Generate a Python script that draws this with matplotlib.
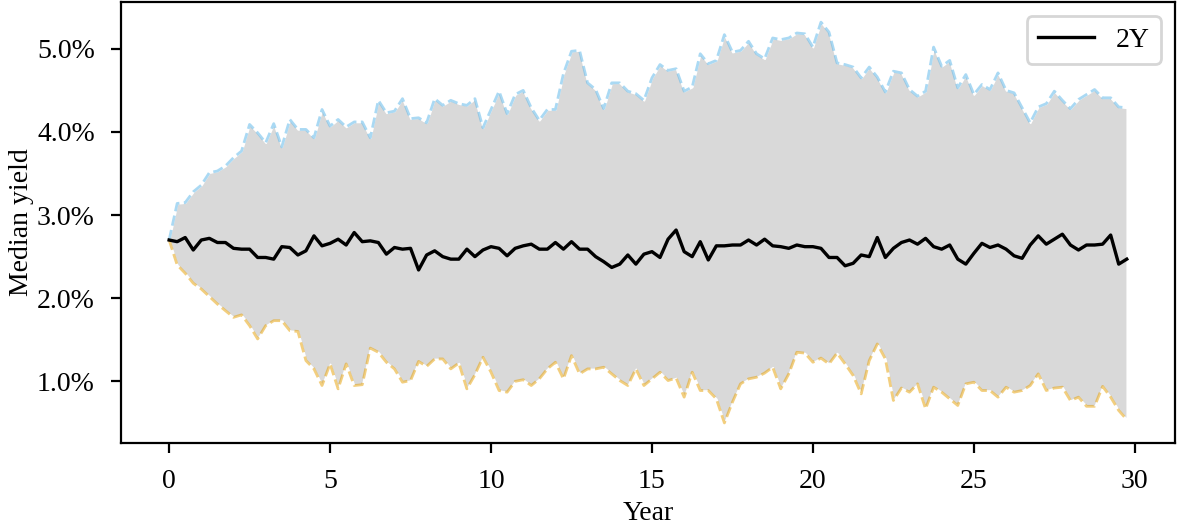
import numpy as np
import matplotlib
matplotlib.use("Agg")
import matplotlib.pyplot as plt
from matplotlib.ticker import PercentFormatter

plt.rcParams['font.family'] = ['Liberation Serif', 'DejaVu Serif']
plt.rcParams['font.size'] = 10

# quarterly simulation steps, 30 years
n_steps = 120
years = np.arange(n_steps) * 0.25

# median 2Y yield (%)
median_2y = [
    2.70, 2.68, 2.73, 2.58, 2.70, 2.72, 2.67, 2.67, 2.60, 2.59,
    2.59, 2.49, 2.49, 2.47, 2.62, 2.61, 2.52, 2.57, 2.75, 2.63,
    2.66, 2.71, 2.64, 2.79, 2.68, 2.69, 2.67, 2.53, 2.61, 2.59,
    2.60, 2.34, 2.52, 2.57, 2.50, 2.47, 2.47, 2.59, 2.50, 2.58,
    2.62, 2.60, 2.51, 2.60, 2.63, 2.65, 2.59, 2.59, 2.67, 2.59,
    2.68, 2.59, 2.59, 2.50, 2.44, 2.37, 2.41, 2.52, 2.41, 2.53,
    2.56, 2.49, 2.71, 2.82, 2.56, 2.50, 2.68, 2.46, 2.63, 2.63,
    2.64, 2.64, 2.70, 2.64, 2.71, 2.63, 2.62, 2.60, 2.64, 2.62,
    2.62, 2.60, 2.49, 2.49, 2.39, 2.42, 2.52, 2.50, 2.73, 2.49,
    2.60, 2.67, 2.70, 2.65, 2.72, 2.62, 2.59, 2.64, 2.47, 2.41,
    2.54, 2.66, 2.61, 2.64, 2.59, 2.51, 2.48, 2.64, 2.75, 2.65,
    2.71, 2.77, 2.64, 2.58, 2.64, 2.64, 2.65, 2.76, 2.41, 2.47,
]

# upper band (%)
upper_2y = [
    2.70, 3.14, 3.15, 3.28, 3.36, 3.51, 3.53, 3.59, 3.69, 3.77,
    4.09, 3.99, 3.87, 4.10, 3.82, 4.15, 4.03, 4.03, 3.93, 4.27,
    4.07, 4.15, 4.06, 4.12, 4.12, 3.93, 4.38, 4.23, 4.25, 4.40,
    4.16, 4.17, 4.11, 4.40, 4.32, 4.38, 4.34, 4.32, 4.40, 4.05,
    4.27, 4.49, 4.22, 4.45, 4.50, 4.29, 4.14, 4.27, 4.27, 4.70,
    4.97, 4.98, 4.59, 4.51, 4.28, 4.59, 4.59, 4.49, 4.46, 4.38,
    4.65, 4.81, 4.74, 4.76, 4.49, 4.54, 4.94, 4.82, 4.86, 5.17,
    4.96, 4.98, 5.09, 4.94, 4.88, 5.13, 5.11, 5.13, 5.19, 5.18,
    5.02, 5.32, 5.20, 4.83, 4.81, 4.78, 4.65, 4.78, 4.66, 4.48,
    4.73, 4.71, 4.51, 4.43, 4.49, 5.02, 4.79, 4.86, 4.53, 4.69,
    4.45, 4.57, 4.51, 4.71, 4.50, 4.47, 4.29, 4.11, 4.30, 4.34,
    4.49, 4.38, 4.28, 4.39, 4.45, 4.51, 4.41, 4.41, 4.30, 4.29,
]

# lower band (%)
lower_2y = [
    2.70, 2.40, 2.30, 2.18, 2.11, 2.02, 1.93, 1.85, 1.77, 1.80,
    1.67, 1.51, 1.67, 1.73, 1.73, 1.61, 1.60, 1.25, 1.15, 0.95,
    1.21, 0.91, 1.21, 0.95, 0.96, 1.40, 1.35, 1.23, 1.15, 0.99,
    1.01, 1.24, 1.18, 1.27, 1.27, 1.15, 1.22, 0.91, 1.08, 1.29,
    1.11, 0.89, 0.87, 1.00, 1.02, 0.95, 1.03, 1.15, 1.23, 1.03,
    1.31, 1.09, 1.15, 1.15, 1.17, 1.09, 1.01, 0.95, 1.15, 0.95,
    1.03, 1.11, 1.01, 1.04, 0.81, 1.11, 0.89, 0.89, 0.79, 0.50,
    0.75, 0.97, 1.03, 1.05, 1.10, 1.17, 0.91, 1.09, 1.35, 1.34,
    1.23, 1.28, 1.21, 1.34, 1.21, 1.07, 0.85, 1.25, 1.45, 1.27,
    0.77, 0.92, 0.87, 0.97, 0.67, 0.93, 0.87, 0.79, 0.71, 0.97,
    0.99, 0.89, 0.89, 0.81, 0.93, 0.87, 0.89, 0.95, 1.09, 0.89,
    0.92, 0.93, 0.77, 0.81, 0.70, 0.70, 0.94, 0.81, 0.65, 0.54,
]

fig, ax = plt.subplots(figsize=(1177 / 200, 528 / 200), dpi=200)
fig.subplots_adjust(left=0.103, right=0.998, top=0.996, bottom=0.161)

ax.fill_between(years, lower_2y, upper_2y, facecolor='#d9d9d9',
                edgecolor='white', linewidth=0.6)
ax.plot(years, upper_2y, '--', color='#56B4E9', alpha=0.5, linewidth=1.0)
ax.plot(years, lower_2y, '--', color='#E69F00', alpha=0.5, linewidth=1.0)
ax.plot(years, median_2y, color='black', linewidth=1.2, label='2Y')

ax.yaxis.set_major_formatter(PercentFormatter(xmax=100, decimals=1))
ax.tick_params(axis='both', pad=6)
ax.set_xlabel('Year', labelpad=2.5)
ax.set_ylabel('Median yield', labelpad=1)
ax.legend(loc='upper right')

fig.savefig('out.png', dpi=200)
